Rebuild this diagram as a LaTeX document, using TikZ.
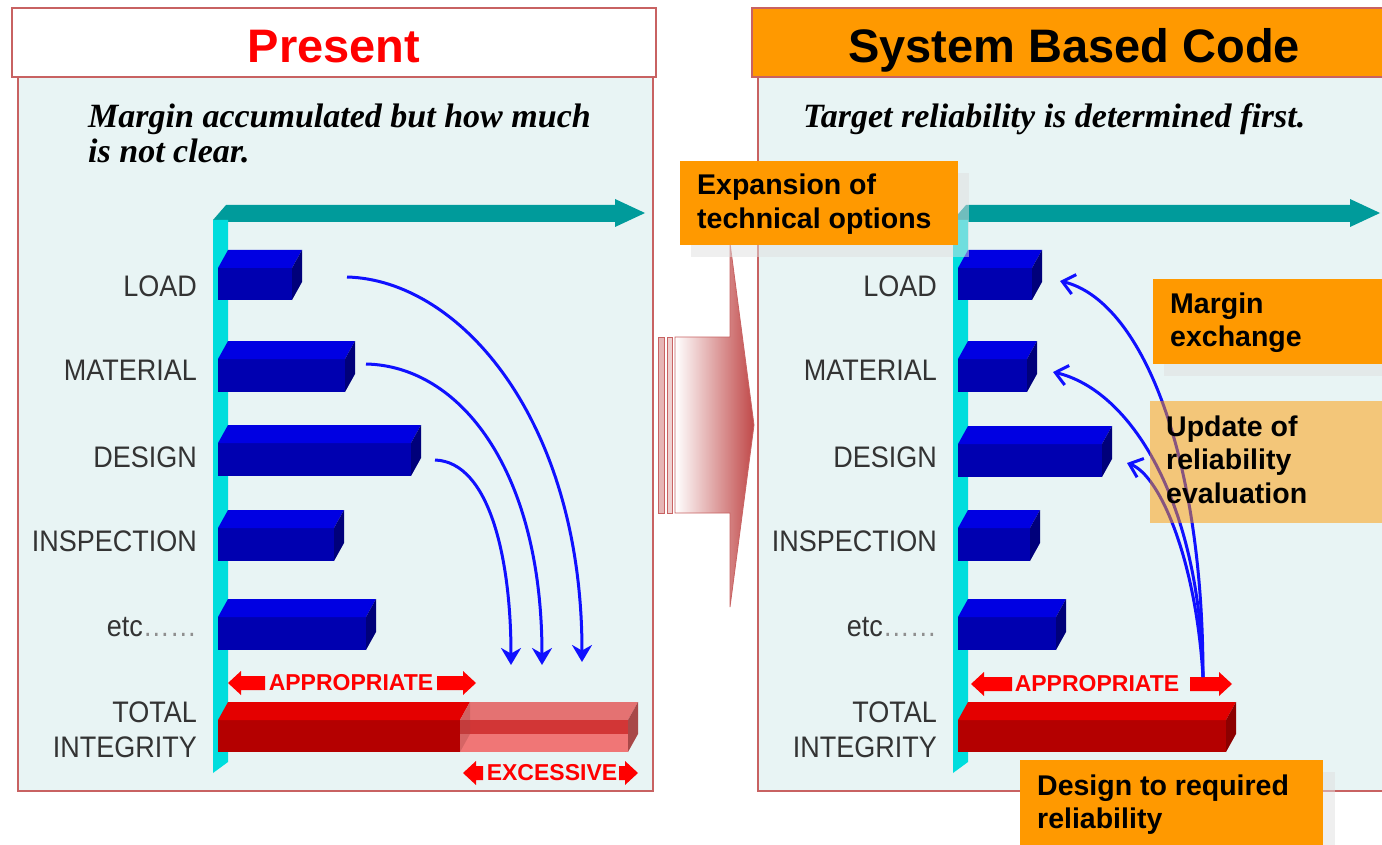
\documentclass[tikz,border=0pt]{standalone}
\usepackage{fontspec}
\setmainfont{Liberation Sans}
\newfontfamily\notefamily{Liberation Serif}
\usepackage{graphicx}
\usetikzlibrary{arrows.meta}

\definecolor{panelred}{RGB}{200,98,98}
\definecolor{panelfill}{RGB}{232,244,244}
\definecolor{axiscyan}{RGB}{0,221,221}
\definecolor{axisteal}{RGB}{0,155,155}
\definecolor{bartop}{RGB}{0,0,226}
\definecolor{barfront}{RGB}{0,0,176}
\definecolor{barside}{RGB}{0,0,122}
\definecolor{redtop}{RGB}{228,0,0}
\definecolor{redfront}{RGB}{180,0,0}
\definecolor{redside}{RGB}{140,0,0}
\definecolor{pinktop}{RGB}{228,114,114}
\definecolor{pinkband}{RGB}{210,54,54}
\definecolor{pinkfront}{RGB}{240,118,118}
\definecolor{pinkside}{RGB}{168,72,72}
\definecolor{tagorange}{RGB}{255,153,0}
\definecolor{labelgray}{RGB}{51,51,51}
\definecolor{arcblue}{RGB}{16,16,255}
\definecolor{arrowred}{RGB}{192,72,72}
\definecolor{signred}{RGB}{255,0,0}

% lines of a text block, first baseline is the box baseline
\newcommand{\leftlines}[1]{\vtop{\halign{##\hfil\cr#1\crcr}}}
\newcommand{\rightlines}[1]{\vtop{\halign{\hfil##\cr#1\crcr}}}
\newcommand{\tallbox}[1]{\scalebox{1}[1.1]{#1}}

% 3D bar: front-left x, front-right x, back-top y, front-bottom y, top, front, side colours
\newcommand{\prism}[7]{%
  \fill[#6] (#1,#3+18) rectangle (#2,#4);
  \fill[#5] (#1,#3+18) -- (#1+10,#3) -- (#2+10,#3) -- (#2,#3+18) -- cycle;
  \fill[#7] (#2,#3+18) -- (#2+10,#3) -- (#2+10,#4-18) -- (#2,#4) -- cycle;
}
% axis pair: x offset, tip x of the horizontal arrow
\newcommand{\axispair}[2]{%
  \fill[axisteal] (#1+213,220) -- (#1+226,205) -- (#2-30,205) -- (#2-30,199) -- (#2,213)
     -- (#2-30,227) -- (#2-30,222) -- (#1+228,222) -- (#1+228,220) -- cycle;
  \fill[axiscyan] (#1+213,220) -- (#1+228,220) -- (#1+228,762) -- (#1+213,773) -- cycle;
}
% red block arrows: tip x, tail x, y
\newcommand{\leftblock}[3]{%
  \fill[signred] (#1,#3) -- (#1+13,#3-12) -- (#1+13,#3-7) -- (#2,#3-7) -- (#2,#3+7)
     -- (#1+13,#3+7) -- (#1+13,#3+12) -- cycle;}
\newcommand{\rightblock}[3]{%
  \fill[signred] (#2,#3) -- (#2-13,#3-12) -- (#2-13,#3-7) -- (#1,#3-7) -- (#1,#3+7)
     -- (#2-13,#3+7) -- (#2-13,#3+12) -- cycle;}

\begin{document}
\begin{tikzpicture}[x=1pt,y=-1pt,
  panel/.style={fill=panelfill, draw=panelred, line width=2.5pt},
  lbl/.style={anchor=base east, inner sep=0, text=labelgray, font=\fontsize{27}{32.7}\selectfont},
  note/.style={anchor=base west, inner sep=0, font={\notefamily\bfseries\itshape\fontsize{34}{35}\selectfont}},
  title/.style={anchor=base, inner sep=0, font=\bfseries\fontsize{47}{50}\selectfont},
  sign/.style={inner sep=0, text=signred, font=\bfseries\fontsize{23}{25}\selectfont},
  tagtext/.style={anchor=base west, inner sep=0, font=\bfseries\fontsize{28.5}{33.5}\selectfont},
  shadow/.style={fill=black!12, opacity=0.5},
  arcdown/.style={draw=arcblue, line width=3pt, -{Stealth[length=17pt,width=20pt]}},
  arcup/.style={draw=arcblue, line width=3pt, -{Straight Barb[length=12pt,width=20pt]}}]

\useasboundingbox (0,0) rectangle (1382,845);
\clip (0,0) rectangle (1382,845);
\fill[white] (0,0) rectangle (1382,845);

% ---- panels and titles
\filldraw[panel] (18,77) rectangle (653,791);
\filldraw[fill=white, draw=panelred, line width=2.5pt] (12,8) rectangle (656,77);
\filldraw[panel] (758,77) rectangle (1400,791);
\filldraw[fill=tagorange, draw=panelred, line width=2.5pt] (752,8) rectangle (1400,77);
\node[title, text=signred] (presentT) at (334,63) {Present};
\node[title, text=black] (sbcT) at (1074,63) {System Based Code};

\node[note] (noteL) at (88,128) {\leftlines{Margin accumulated but how much\cr is not clear.}};
\node[note] (noteR) at (803,128) {Target reliability is determined first.};

% ---- transition arrow between the panels
\filldraw[fill=arrowred!40!white, draw=panelred, line width=0.8pt] (658,337) rectangle (664,513);
\filldraw[fill=arrowred!25!white, draw=panelred, line width=0.8pt] (667,337) rectangle (672,513);
\shade[left color=white, right color=arrowred, draw=panelred, line width=0.8pt]
  (675,337) -- (730,337) -- (730,243) -- (754,425) -- (730,607) -- (730,513) -- (675,513) -- cycle;

% ---- axes
\axispair{0}{645}
\axispair{740}{1380}

% ---- bars, present
\prism{218}{292}{250}{300}{bartop}{barfront}{barside}
\prism{218}{345}{341}{392}{bartop}{barfront}{barside}
\prism{218}{411}{425}{476}{bartop}{barfront}{barside}
\prism{218}{334}{510}{561}{bartop}{barfront}{barside}
\prism{218}{366}{599}{650}{bartop}{barfront}{barside}
% total integrity: appropriate part and excessive part
\fill[redfront] (218,720) rectangle (460,752);
\fill[redtop] (218,720) -- (228,702) -- (470,702) -- (460,720) -- cycle;
\fill[pinktop] (460,720) -- (470,702) -- (638,702) -- (628,720) -- cycle;
\fill[pinkband] (460,720) rectangle (628,734);
\fill[pinkfront] (460,734) rectangle (628,752);
\fill[pinkside] (628,720) -- (638,702) -- (638,734) -- (628,752) -- cycle;
\fill[pinkside, opacity=0.35] (460,720) -- (470,702) -- (470,734) -- (460,752) -- cycle;

% ---- bars, system based code
\prism{958}{1032}{250}{300}{bartop}{barfront}{barside}
\prism{958}{1027}{341}{392}{bartop}{barfront}{barside}
\prism{958}{1102}{426}{477}{bartop}{barfront}{barside}
\prism{958}{1030}{510}{561}{bartop}{barfront}{barside}
\prism{958}{1056}{599}{650}{bartop}{barfront}{barside}
\prism{958}{1226}{702}{752}{redtop}{redfront}{redside}

% ---- row labels
\node[lbl] (loadL) at (197,297) {\tallbox{LOAD}};
\node[lbl] (matL) at (197,380) {\tallbox{MATERIAL}};
\node[lbl] (desL) at (197,467) {\tallbox{DESIGN}};
\node[lbl] (inspL) at (197,551) {\tallbox{INSPECTION}};
\node[lbl] (etcL) at (197,636) {\tallbox{etc\textcolor{labelgray!55}{……}}};
\node[lbl] (totL) at (197,722) {\tallbox{\rightlines{TOTAL\cr INTEGRITY}}};
\node[lbl] (loadR) at (937,297) {\tallbox{LOAD}};
\node[lbl] (matR) at (937,380) {\tallbox{MATERIAL}};
\node[lbl] (desR) at (937,467) {\tallbox{DESIGN}};
\node[lbl] (inspR) at (937,551) {\tallbox{INSPECTION}};
\node[lbl] (etcR) at (937,636) {\tallbox{etc\textcolor{labelgray!55}{……}}};
\node[lbl] (totR) at (937,722) {\tallbox{\rightlines{TOTAL\cr INTEGRITY}}};

% ---- range markers
\leftblock{228}{265}{683}
\node[sign] (apL) at (351,683) {APPROPRIATE};
\rightblock{437}{476}{683}
\leftblock{463}{483}{773}
\node[sign] (exL) at (552,773) {EXCESSIVE};
\rightblock{619}{638}{773}
\leftblock{971}{1012}{684}
\node[sign] (apR) at (1097,684) {APPROPRIATE};
\rightblock{1190}{1232}{684}

% ---- margins piled onto the total
\coordinate (l1s) at (347,277);
\coordinate (l1e) at (582,662);
\coordinate (l2s) at (366,364);
\coordinate (l2e) at (542,665);
\coordinate (l3s) at (435,460);
\coordinate (l3e) at (511,665);
\draw[arcdown] (l1s) .. controls (460,280) and (582,420) .. (l1e);
\draw[arcdown] (l2s) .. controls (460,366) and (542,470) .. (l2e);
\draw[arcdown] (l3s) .. controls (490,462) and (511,560) .. (l3e);

% ---- margins fed back from the total
\coordinate (rs) at (1203,677);
\coordinate (r1e) at (1060,281);
\coordinate (r2e) at (1053,372);
\coordinate (r3e) at (1127,463);
\draw[arcup] (rs) .. controls (1203,450) and (1140,300) .. (r1e);
\draw[arcup] (rs) .. controls (1200,500) and (1130,390) .. (r2e);
\draw[arcup] (rs) .. controls (1196,560) and (1160,475) .. (r3e);

% ---- tags
\fill[shadow] (691,173) rectangle (969,257);
\fill[tagorange] (680,161) rectangle (958,245);
\node[tagtext] (expT) at (697,195) {\leftlines{Expansion of\cr technical options}};

\fill[shadow] (1164,291) rectangle (1400,376);
\fill[tagorange] (1153,279) rectangle (1400,364);
\node[tagtext] (mexT) at (1170,313) {\leftlines{Margin\cr exchange}};

\fill[tagorange, opacity=0.5] (1150,401) rectangle (1400,523);
\node[tagtext] (updT) at (1166,436) {\leftlines{Update of\cr reliability\cr evaluation}};

\fill[shadow] (1032,772) rectangle (1335,860);
\fill[tagorange] (1020,760) rectangle (1323,860);
\node[tagtext] (dsgT) at (1037,795) {\leftlines{Design to required\cr reliability}};

\end{tikzpicture}
\end{document}
